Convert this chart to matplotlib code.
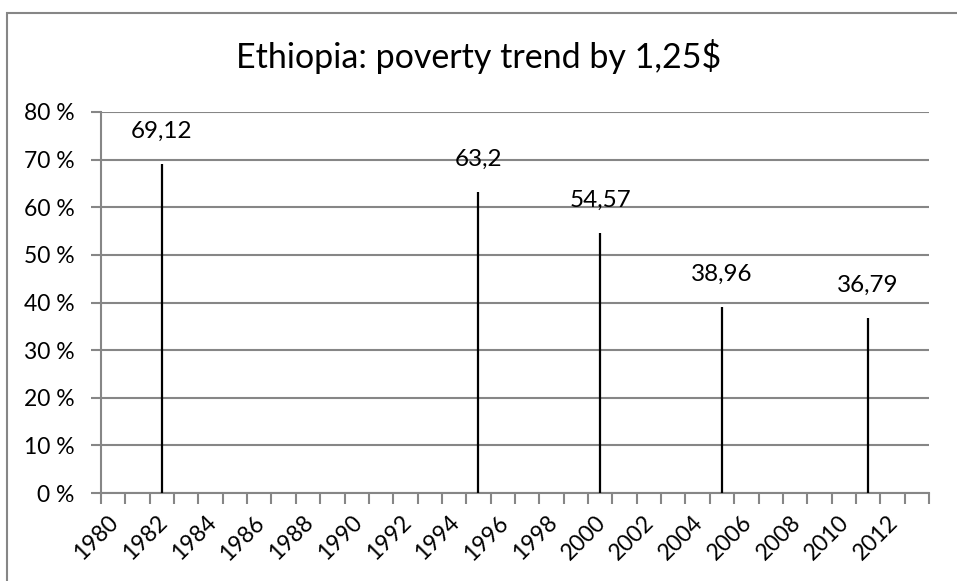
import matplotlib
matplotlib.use("Agg")
import matplotlib.pyplot as plt
import numpy as np
from matplotlib.patches import Rectangle
from matplotlib.transforms import ScaledTranslation

# poverty headcount at $1.25 a day, % of population
years = [1982, 1995, 2000, 2005, 2011]
poverty = [69.12, 63.2, 54.57, 38.96, 36.79]
year_labels = list(range(1980, 2013, 2))
pct_ticks = list(range(0, 81, 10))

plt.rcParams['font.family'] = ['Lato', 'DejaVu Sans']
grey = '#868686'

fig = plt.figure(figsize=(9.57, 5.81), dpi=100)
ax = fig.add_axes([101 / 957, 88 / 581, 828 / 957, 381 / 581])

# thin bars, one per survey year
ax.vlines(years, 0, poverty, colors='black', linewidth=1.6, zorder=3)
for x, v in zip(years, poverty):
    ax.annotate(f"{v:g}".replace('.', ','), (x, v), xytext=(0, 16),
                textcoords='offset points', ha='center', va='bottom',
                fontsize=17.5, color='black')

ax.set_xlim(1979.5, 2013.5)
ax.set_ylim(0, 80)
ax.set_yticks(pct_ticks)
ax.set_yticklabels([f"{p} %" for p in pct_ticks])
ax.yaxis.grid(True, color=grey, linewidth=1.5)
ax.set_axisbelow(True)

ax.set_xticks(year_labels)
ax.set_xticklabels([str(y) for y in year_labels], rotation=45, ha='right',
                   va='center', rotation_mode='anchor')
ax.set_xticks(np.arange(1979.5, 2014), minor=True)
ax.tick_params(axis='x', which='major', length=0, pad=19, labelsize=16.5)
ax.tick_params(axis='x', which='minor', length=8, width=1.5, color=grey)
ax.tick_params(axis='y', length=7, width=1.5, color=grey, labelsize=16.5, pad=12)

# nudge the rotated year labels a little to the right
shift = ScaledTranslation(1.5 / 72, 0, fig.dpi_scale_trans)
for lbl in ax.get_xticklabels():
    lbl.set_transform(lbl.get_transform() + shift)

for side in ('top', 'right'):
    ax.spines[side].set_visible(False)
for side in ('left', 'bottom'):
    ax.spines[side].set_color(grey)
    ax.spines[side].set_linewidth(1.5)

fig.text(0.5, 1 - 68 / 581, "Ethiopia: poverty trend by 1,25$", ha='center',
         va='baseline', fontsize=24.5)

# chart frame
fig.patches.append(Rectangle((7 / 957, -0.1), 1.2, 1.1 - 13 / 581,
                             transform=fig.transFigure, fill=False,
                             edgecolor=grey, linewidth=1.5))

fig.savefig("out.png", dpi=100)
